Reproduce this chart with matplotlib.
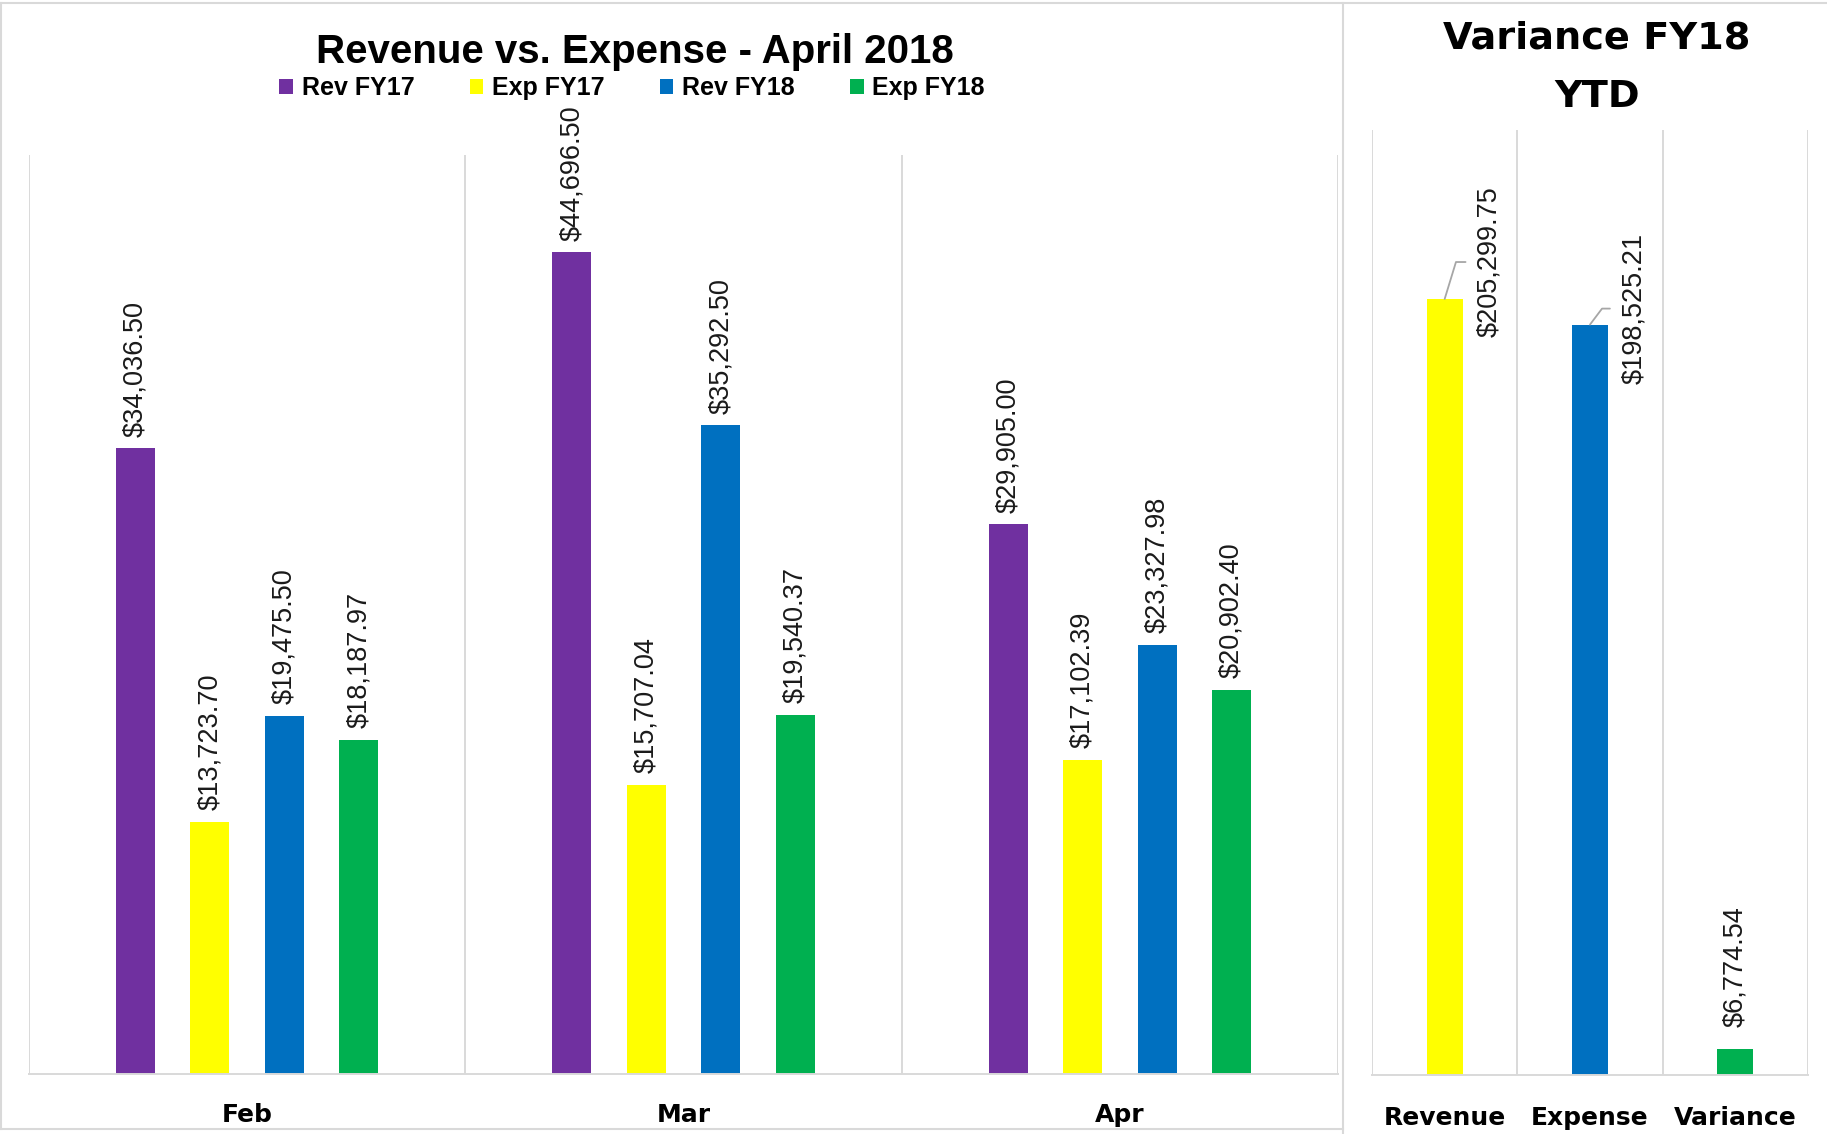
import matplotlib
matplotlib.use('Agg')
import matplotlib.pyplot as plt
from matplotlib.lines import Line2D

# monthly chart data
months = ['Feb', 'Mar', 'Apr']
series_names = ['Rev FY17', 'Exp FY17', 'Rev FY18', 'Exp FY18']
rev_fy17 = [34036.50, 44696.50, 29905.00]
exp_fy17 = [13723.70, 15707.04, 17102.39]
rev_fy18 = [19475.50, 35292.50, 23327.98]
exp_fy18 = [18187.97, 19540.37, 20902.40]

# YTD variance chart data
ytd_labels = ['Revenue', 'Expense', 'Variance']
ytd_values = [205299.75, 198525.21, 6774.54]

PURPLE, YELLOW, BLUE, GREEN = '#7030A0', '#FFFF00', '#0070C0', '#00B050'
GRID = '#d9d9d9'
LEADER = '#a6a6a6'

W, H = 1827, 1134
fig = plt.figure(figsize=(W / 100, H / 100), dpi=100)
fig.patch.set_facecolor('white')


def fx(px):
    return px / W


def fy(py):
    return 1 - py / H


LABEL_FONT = dict(family=['Liberation Sans', 'DejaVu Sans'], fontsize=19.5, color='#1a1a1a')


def style_axes(ax, labels, ymax, pad):
    n = len(labels)
    ax.set_xlim(-0.5, n - 0.5)
    ax.set_ylim(0, ymax)
    for s in ('top', 'left', 'right'):
        ax.spines[s].set_visible(False)
    ax.spines['bottom'].set_color(GRID)
    ax.spines['bottom'].set_linewidth(1.4)
    ax.set_yticks([])
    ax.set_xticks(range(n))
    ax.set_xticklabels(labels, fontsize=18, fontweight='bold', family='DejaVu Sans')
    ax.set_xticks([i - 0.5 for i in range(n + 1)], minor=True)
    ax.tick_params(axis='x', which='both', length=0, pad=pad)
    ax.grid(True, axis='x', which='minor', color=GRID, lw=1.4)
    ax.set_axisbelow(True)


# ---- left chart: Revenue vs. Expense ----
ax1 = fig.add_axes([fx(29), fy(1074), (1338 - 29) / W, (1074 - 155) / H])
style_axes(ax1, months, 50000, 21)

bar_w, step = 0.0894, 0.1707
all_series = [rev_fy17, exp_fy17, rev_fy18, exp_fy18]
colors = [PURPLE, YELLOW, BLUE, GREEN]
for i, (name, vals, c) in enumerate(zip(series_names, all_series, colors)):
    xs = [m + (i - 1.5) * step for m in range(len(months))]
    bars = ax1.bar(xs, vals, bar_w, color=c, label=name, zorder=2)
    for b, v in zip(bars, vals):
        ax1.annotate(f'${v:,.2f}', (b.get_x() + b.get_width() / 2, v),
                     xytext=(0, 8.5), textcoords='offset points',
                     rotation=90, ha='center', va='bottom', **LABEL_FONT)

fig.text(fx(635), fy(63), 'Revenue vs. Expense - April 2018', ha='center', va='baseline',
         fontsize=29, fontweight='bold', family=['Liberation Sans', 'DejaVu Sans'])

h, l = ax1.get_legend_handles_labels()
fig.legend(h, l, loc='center', bbox_to_anchor=(fx(632), fy(88)), ncol=4, frameon=False,
           prop=dict(family='Liberation Sans', weight='bold', size=18),
           handlelength=0.55, handleheight=0.55, handletextpad=0.35, columnspacing=2.2)

# ---- right chart: Variance FY18 YTD ----
ax2 = fig.add_axes([fx(1372), fy(1075), (1808 - 1372) / W, (1075 - 130) / H])
style_axes(ax2, ytd_labels, 250000, 22)
ybars = ax2.bar(range(3), ytd_values, 0.248, color=[YELLOW, BLUE, GREEN], zorder=2)

# label offsets (points) from each bar top; first two use leader lines
label_offsets = [(32.4, 26.6), (31.7, 11.5), (0, 16)]
leader_angles = [73, 53, None]
for b, v, off, ang in zip(ybars, ytd_values, label_offsets, leader_angles):
    xy = (b.get_x() + b.get_width() / 2, v)
    if ang is None:
        ax2.annotate(f'${v:,.2f}', xy, xytext=off, textcoords='offset points',
                     rotation=90, ha='center', va='bottom', **LABEL_FONT)
    else:
        ax2.annotate(f'${v:,.2f}', xy, xytext=off, textcoords='offset points',
                     rotation=90, ha='center', va='center', **LABEL_FONT,
                     arrowprops=dict(arrowstyle='-', color=LEADER, lw=1.3,
                                     connectionstyle=f'angle,angleA=0,angleB={ang},rad=0',
                                     shrinkA=6, shrinkB=0))

fig.text(fx(1597), fy(68), 'Variance FY18\nYTD', ha='center', va='center',
         fontsize=27.5, fontweight='bold', family='DejaVu Sans', linespacing=1.82)

# chart frames
frame = dict(color=GRID, lw=1.5, transform=fig.transFigure)
fig.add_artist(Line2D([0, 1], [fy(3), fy(3)], **frame))
fig.add_artist(Line2D([fx(1), fx(1)], [fy(3), fy(1129)], **frame))
fig.add_artist(Line2D([0, fx(1343)], [fy(1129), fy(1129)], **frame))
fig.add_artist(Line2D([fx(1343), fx(1343)], [fy(3), 0], **frame))

fig.savefig('out.png', dpi=100)
